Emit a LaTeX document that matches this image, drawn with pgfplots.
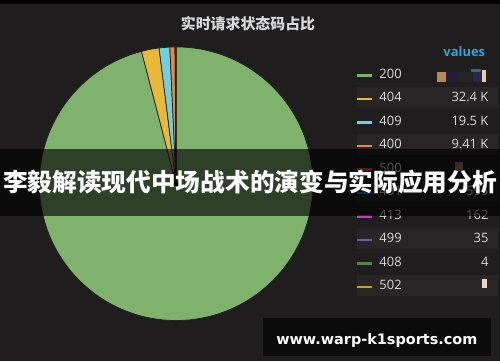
\documentclass[border=0pt]{standalone}
\usepackage{pgfplots}
\pgfplotsset{compat=1.18}
\usepackage{pgfplotstable}
\usepackage{fontspec}
\setmainfont{Open Sans}
\newfontfamily\cjk{Noto Sans CJK SC}
\newfontfamily\dejavu{DejaVu Sans}

\definecolor{bg}{HTML}{1F1D1E}
\definecolor{band}{HTML}{272526}
\definecolor{txt}{HTML}{D8D9DA}
\definecolor{c200}{HTML}{7EB26D}
\definecolor{c404}{HTML}{EAB839}
\definecolor{c409}{HTML}{6ED0E0}
\definecolor{c400}{HTML}{EF843C}
\definecolor{c500}{HTML}{E24D42}
\definecolor{c401}{HTML}{1F78C1}
\definecolor{c413}{HTML}{BA43A9}
\definecolor{c499}{HTML}{705DA0}
\definecolor{c408}{HTML}{508642}
\definecolor{c502}{HTML}{CCA300}
\definecolor{valblue}{HTML}{33A3DC}
\definecolor{wmbox}{HTML}{0B0B0B}
\definecolor{g1}{HTML}{B5895A}
\definecolor{g2}{HTML}{201E38}
\definecolor{g3}{HTML}{252525}
\definecolor{g4}{HTML}{28264A}
\definecolor{g5}{HTML}{4A6078}
\definecolor{g6}{HTML}{E0CFA8}
\definecolor{g7}{HTML}{9D7D5C}
\definecolor{g8}{HTML}{E8D9B5}

% values in thousands
\pgfplotstableread{
code value
200 1490
404 32.4
409 19.5
400 9.41
500 1.13
401 0.595
413 0.162
499 0.035
408 0.004
502 0.001
}\pietable

\def\pietotal{0}
\pgfplotstableforeachcolumnelement{value}\of\pietable\as\v{%
  \pgfmathsetmacro\tmptot{\pietotal+\v}\xdef\pietotal{\tmptot}}
\gdef\curang{90}
\newcount\slicecount
\global\slicecount=0
\def\slicecolor#1{\ifcase#1 c200\or c200\or c404\or c409\or c400\or c500\or c401\or c413\or c499\or c408\or c502\else c200\fi}

\begin{document}
\begin{tikzpicture}[x=1bp,y=1bp]
\fill[bg] (0,0) rectangle (500,362);
\fill[black] (0,358) rectangle (500,362);

% legend row bands
\foreach \i in {2,4,6,8,10}{
  \pgfmathsetmacro\yy{288-(\i-1)*23.5}
  \fill[band] (357,\yy-10.5) rectangle (498,\yy+10.5);
}

\begin{axis}[at={(0,0)}, anchor=south west, scale only axis,
  width=500bp, height=362bp, xmin=0, xmax=500, ymin=0, ymax=362,
  hide axis, clip=false]
\addplot[scatter, only marks, mark=*, mark options={draw=none,fill=none},
  visualization depends on={\thisrow{value} \as \val},
  scatter/@pre marker code/.code={%
    \global\advance\slicecount by 1
    \begingroup
      \pgfkeys{/pgf/fpu=true,/pgf/fpu/output format=fixed}%
      \pgfmathparse{\curang-\val/\pietotal*360}%
      \xdef\endang{\pgfmathresult}%
    \endgroup
    \edef\wcol{\slicecolor{\the\slicecount}}%
    \fill[\wcol, draw=bg, line width=0.7bp] (0,0) -- (\curang:137bp)
      arc[start angle=\curang, end angle=\endang, radius=137bp] -- cycle;%
    \global\let\curang\endang},
  scatter/@post marker code/.code={}]
  table[x expr=176, y expr=178] {\pietable};
\end{axis}

% title
\node[txt] at (248,338) {\cjk\bfseries\fontsize{15}{17}\selectfont 实时请求状态码占比};
% legend header
\node[valblue, anchor=east] at (489,310) {\bfseries\fontsize{13}{15}\selectfont values};

% legend rows
\foreach \code/\valtxt/\col [count=\i] in {200/{}/c200, 404/{32.4 K}/c404, 409/{19.5 K}/c409,
   400/{9.41 K}/c400, 500/{}/c500, 401/{595}/c401, 413/{162}/c413, 499/{35}/c499,
   408/{4}/c408, 502/{}/c502}{
  \pgfmathsetmacro\yy{288-(\i-1)*23.5}
  \fill[\col] (357.5,\yy-3) rectangle (372,\yy-0.5);
  \node[txt, anchor=west, inner sep=0pt] at (379.5,\yy) {\fontsize{13}{15}\selectfont \code};
  \node[txt, anchor=east, inner sep=0pt] at (489,\yy) {\fontsize{13}{15}\selectfont \valtxt};
}
% garbled value glyphs of the reference
\fill[g1] (437,280) rectangle (446,289.5);
\fill[g2] (446,280) rectangle (458,289.5);
\fill[g3] (458,280) rectangle (472,289.5);
\fill[g4] (473,280) rectangle (482,289.5);
\fill[g5] (471,289.5) rectangle (481,293);
\fill[g6] (482,280) rectangle (486.5,292);
\fill[g7] (455,191) rectangle (463,199.5);
\fill[g8] (482.5,74) rectangle (487,83);

% banner overlay
\fill[black, opacity=0.63] (0,146) rectangle (500,213);
\node[white] at (250,179.5) {\cjk\bfseries\fontsize{24.8}{26}\selectfont 李毅解读现代中场战术的演变与实际应用分析};

% watermark
\fill[wmbox] (263,5) rectangle (491,43);
\node[white] at (377,21) {\dejavu\bfseries\fontsize{14.5}{16}\selectfont www.warp-k1sports.com};
\end{tikzpicture}
\end{document}
